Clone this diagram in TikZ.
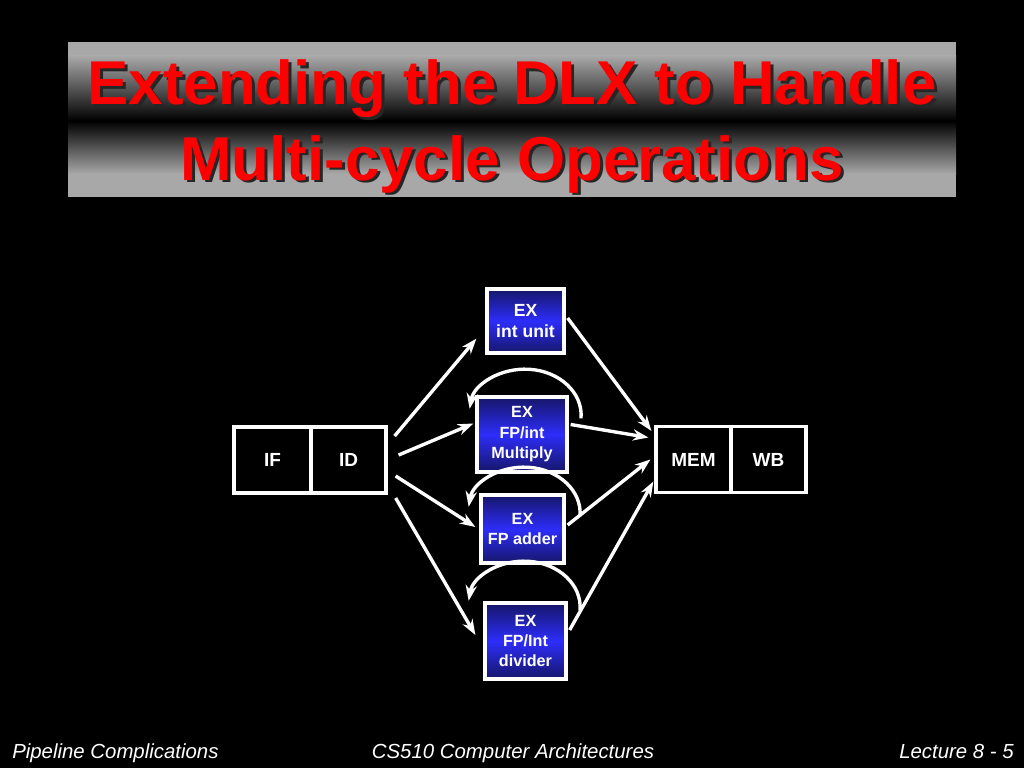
\documentclass[tikz,border=0pt]{standalone}
\usepackage{fontspec}
\setmainfont{Liberation Sans}
\usetikzlibrary{arrows.meta}

\definecolor{exdark}{RGB}{22,22,105}
\definecolor{exlight}{RGB}{45,45,250}
\definecolor{bargray}{RGB}{168,168,168}

\begin{document}
\begin{tikzpicture}[x=0.025cm,y=-0.025cm,
  titletext/.style={anchor=base, inner sep=0pt, text=red,
    font=\bfseries\fontsize{44}{53}\selectfont},
  stage/.style={draw=white, line width=2.3pt, minimum width=1.875cm,
    minimum height=1.65cm, text=white,
    font=\bfseries\fontsize{13.5}{16}\selectfont},
  exbox/.style={draw=white, line width=2.3pt, top color=exdark,
    bottom color=exdark, middle color=exlight, text=white, align=center,
    inner sep=1pt, font=\bfseries\fontsize{11.5}{14.5}\selectfont},
  arr/.style={white, line width=2.4pt, -{Stealth[length=11pt,width=8pt]}},
  foot/.style={inner sep=0pt, text=white,
    font=\itshape\fontsize{14.5}{16}\selectfont}]
  % Background
  \fill[black] (0,0) rectangle (1024,768);
  \useasboundingbox (0,0) rectangle (1024,768);

  % Title bar
  \fill[bargray] (68,42) rectangle (956,56);
  \shade[top color=bargray, bottom color=black] (68,56) rectangle (956,121);
  \shade[top color=black, bottom color=bargray] (68,121) rectangle (956,174);
  \fill[bargray] (68,174) rectangle (956,197);
  \foreach \ln/\ty/\ttl in {1/105/Extending the DLX to Handle,
                            2/180/Multi-cycle Operations}{
    \node[titletext, text=black!85] (shadow\ln) at (515,\ty+3) {\ttl};
    \node[titletext] (title\ln) at (512,\ty) {\ttl};
  }

  % Pipeline stages
  \node[stage, minimum width=1.925cm] (if) at (272.5,460) {IF};
  \node[stage] (id) at (348.5,460) {ID};
  \node[stage] (mem) at (693.5,459.5) {MEM};
  \node[stage] (wb) at (768.5,459.5) {WB};

  % Execution units
  \node[exbox, minimum width=1.925cm, minimum height=1.6cm,
    font=\bfseries\fontsize{12.5}{15.5}\selectfont] (intu) at (525.5,321)
    {EX\\int unit};
  \node[exbox, minimum width=2.25cm, minimum height=1.875cm] (mult)
    at (522,434.5) {EX\\FP/int\\Multiply};
  \node[exbox, minimum width=2.075cm, minimum height=1.7cm] (add)
    at (522.5,529) {EX\\FP adder};
  \node[exbox, minimum width=2.025cm, minimum height=1.9cm] (div)
    at (525.5,641) {EX\\FP/Int\\divider};

  % ID to execution units
  \draw[arr] ([shift={(7,-24)}]id.east) -- ([shift={(-9,-16)}]intu.south west);
  \draw[arr] ([shift={(11,-5)}]id.east) -- ([shift={(-2,-11)}]mult.west);
  \draw[arr] ([shift={(8,16)}]id.east) -- ([shift={(-4,-2)}]add.west);
  \draw[arr] ([shift={(8,38)}]id.east) -- ([shift={(-8,-6)}]div.west);

  % Execution units to MEM
  \draw[arr] ([shift={(2,-3)}]intu.east) -- ([shift={(-3,6)}]mem.north west);
  \draw[arr] ([shift={(2,-10)}]mult.east) -- ([shift={(-6,-22)}]mem.west);
  \draw[arr] ([shift={(2,-4)}]add.east) -- ([shift={(-4,0)}]mem.west);
  \draw[arr] ([shift={(2,-11)}]div.east) -- ([shift={(-1,22)}]mem.west);

  % Repeat loops
  \foreach \b/\dx/\dy in {mult/59/23, add/57.5/23, div/54.5/9}
    \draw[arr] ([shift={(\dx,\dy)}]\b.north)
      arc[start angle=-4, end angle=172, x radius=1.4cm, y radius=1.15cm];

  % Footer
  \node[foot, anchor=base west] (fleft) at (12,758) {Pipeline Complications};
  \node[foot, anchor=base] (fmid) at (513,758) {CS510 Computer Architectures};
  \node[foot, anchor=base east] (fright) at (1014,758) {Lecture 8 - 5};
\end{tikzpicture}
\end{document}
